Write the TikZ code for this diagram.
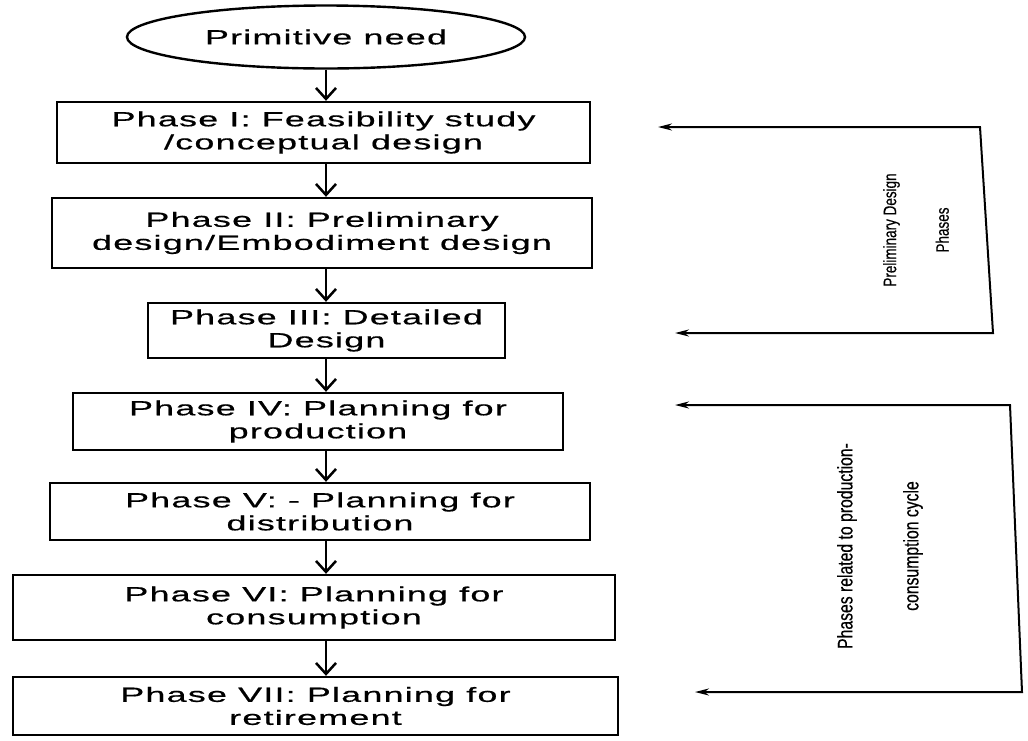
\documentclass[tikz,border=0pt]{standalone}
\usepackage{fontspec}
\setmainfont{Liberation Sans}
% wide face for the phase boxes, narrow face for the side labels
\newfontfamily\widefont[FakeStretch=1.75,LetterSpace=6,FakeBold=0.6]{Liberation Sans}
\newfontfamily\narrowfont[FakeStretch=0.75,FakeBold=0.4]{Liberation Sans}
\usetikzlibrary{shapes.geometric,arrows.meta}

\begin{document}
\begin{tikzpicture}[x=1pt,y=-1pt,
  phase/.style={draw, line width=2.4pt, align=center, inner sep=0pt,
    font=\widefont\fontsize{20.5}{23}\selectfont},
  flow/.style={line width=2.5pt, -{Straight Barb[length=11pt,width=20pt,line width=2.5pt]}},
  bracket/.style={line width=2pt, {Stealth[length=14pt,width=7pt]}-{Stealth[length=14pt,width=7pt]}},
  sidelabel/.style={rotate=90, align=center, inner sep=0pt}]
\useasboundingbox (0,0) rectangle (1028,740);

% start of the process
\node[ellipse, draw, line width=2.4pt, minimum width=398pt, minimum height=63pt,
      inner sep=0pt, font=\widefont\fontsize{20.5}{23}\selectfont] (need) at (326,37) {Primitive need};

% the seven phases
\node[phase, minimum width=533pt, minimum height=61pt] (p1) at (323.5,132.5)
  {Phase I: Feasibility study\\/conceptual design};
\node[phase, minimum width=540pt, minimum height=70pt] (p2) at (322,233)
  {Phase II: Preliminary\\design/Embodiment design};
\node[phase, minimum width=357pt, minimum height=55pt] (p3) at (326.5,330.5)
  {Phase III: Detailed\\Design};
\node[phase, minimum width=490pt, minimum height=57pt] (p4) at (318,421.5)
  {Phase IV: Planning for\\production};
\node[phase, minimum width=540pt, minimum height=57pt] (p5) at (320,511.5)
  {Phase V: - Planning for\\distribution};
\node[phase, minimum width=602pt, minimum height=65pt] (p6) at (314,607.5)
  {Phase VI: Planning for\\consumption};
\node[phase, minimum width=605pt, minimum height=58pt] (p7) at (315.5,706)
  {Phase VII: Planning for\\retirement};

% vertical flow along the centre column
\draw[flow] (need.south) -- (need.south |- p1.north);
\draw[flow] (need.south |- p1.south) -- (need.south |- p2.north);
\draw[flow] (need.south |- p2.south) -- (need.south |- p3.north);
\draw[flow] (need.south |- p3.south) -- (need.south |- p4.north);
\draw[flow] (need.south |- p4.south) -- (need.south |- p5.north);
\draw[flow] (need.south |- p5.south) -- (need.south |- p6.north);
\draw[flow] (need.south |- p6.south) -- (need.south |- p7.north);

% bracket over the preliminary design phases
\coordinate (pdTop) at (658,127);
\coordinate (pdTopCorner) at (980,127);
\coordinate (pdBotCorner) at (993,333);
\coordinate (pdBot) at (675,333);
\draw[bracket] (pdTop) -- (pdTopCorner) -- (pdBotCorner) -- (pdBot);
\node[sidelabel, font=\narrowfont\fontsize{18}{21.6}\selectfont] (pdLabel) at (916,230)
  {Preliminary Design\\[31pt]Phases};

% bracket over the production-consumption phases
\coordinate (pcTop) at (675,405);
\coordinate (pcTopCorner) at (1010,405);
\coordinate (pcBotCorner) at (1022,692);
\coordinate (pcBot) at (695,692);
\draw[bracket] (pcTop) -- (pcTopCorner) -- (pcBotCorner) -- (pcBot);
\node[sidelabel, font=\narrowfont\fontsize{21}{25}\selectfont] (pcLabel) at (880,546)
  {Phases related to production-\\[41pt]consumption cycle};
\end{tikzpicture}
\end{document}
